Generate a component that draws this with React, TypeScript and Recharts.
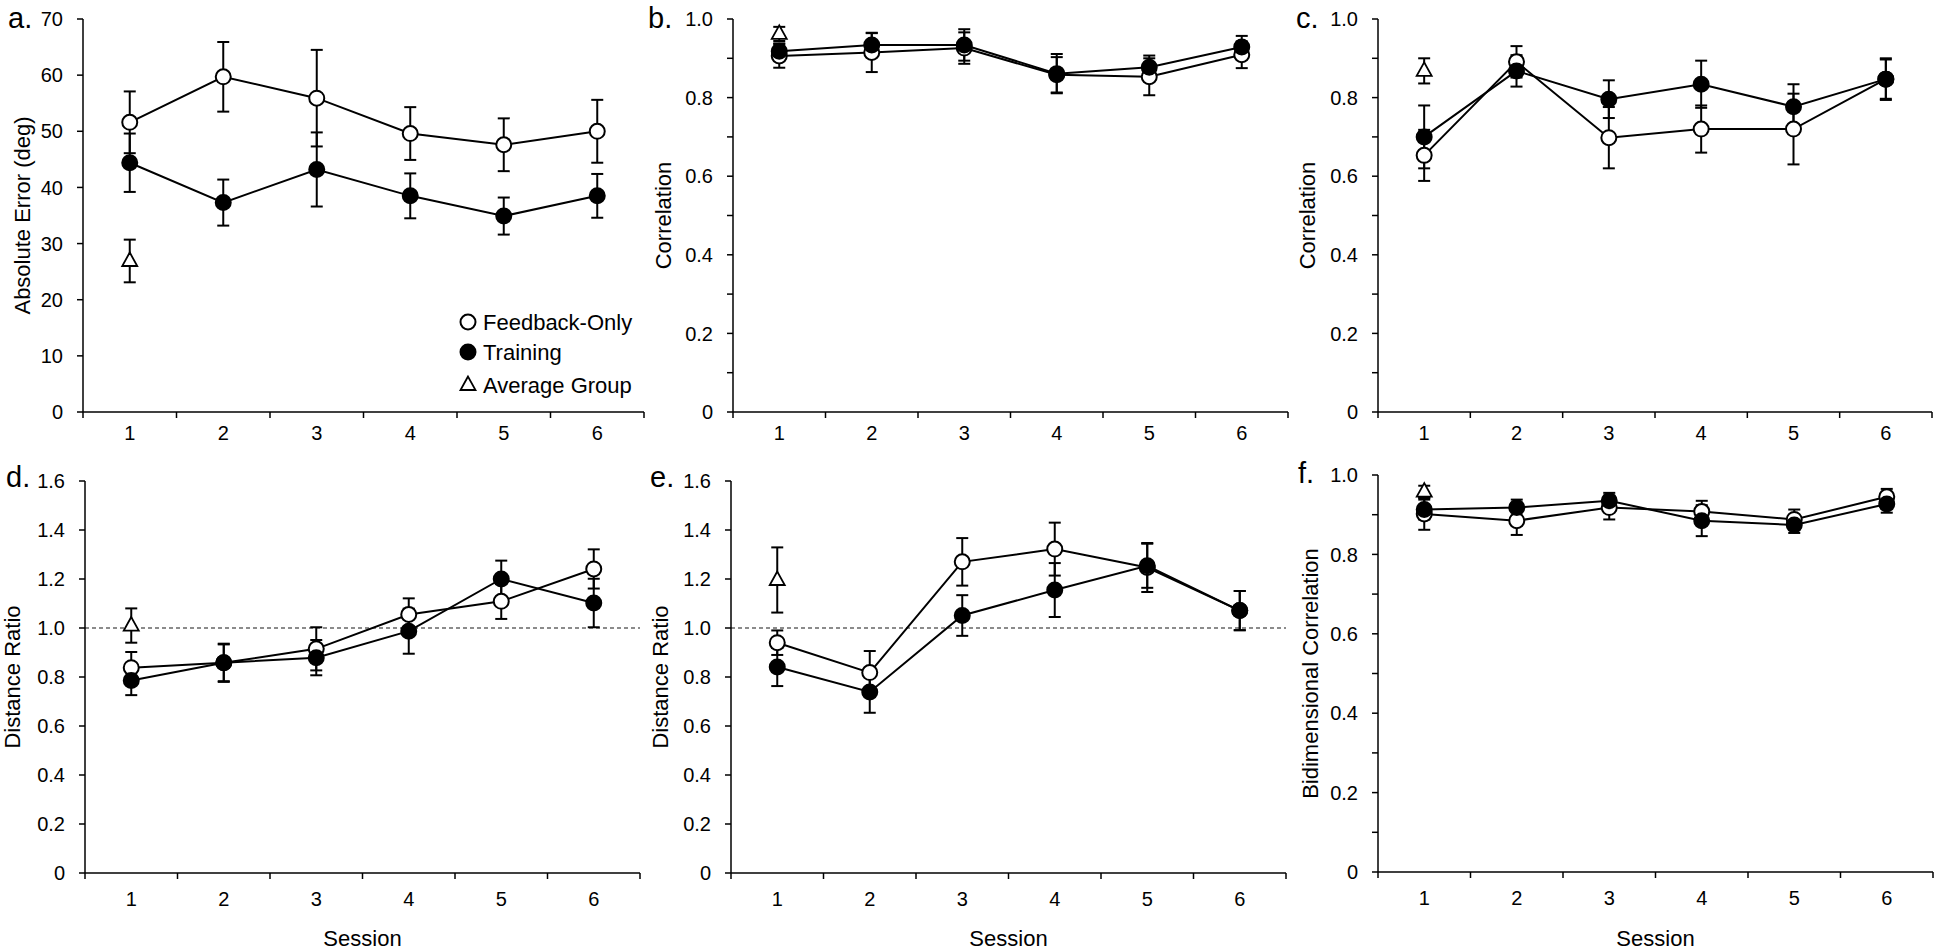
import {
  ComposedChart,
  Line,
  Scatter,
  XAxis,
  YAxis,
  ErrorBar,
  ReferenceLine,
} from "recharts";

const FONT = "'Liberation Sans', Arial, sans-serif";

const sessions = [1, 2, 3, 4, 5, 6];

// a. absolute error (deg)
const errFeedback = [51.6, 59.7, 55.9, 49.6, 47.6, 50.0];
const errFeedbackSe = [5.5, 6.2, 8.6, 4.7, 4.7, 5.6];
const errTraining = [44.4, 37.3, 43.2, 38.5, 34.9, 38.5];
const errTrainingSe = [5.2, 4.1, 6.6, 4.0, 3.3, 3.9];
const errAverage = [26.9];
const errAverageSe = [3.8];

// b. correlation
const corrBFeedback = [0.906, 0.915, 0.926, 0.858, 0.853, 0.909];
const corrBFeedbackSe = [0.03, 0.05, 0.04, 0.045, 0.047, 0.034];
const corrBTraining = [0.918, 0.934, 0.934, 0.861, 0.877, 0.929];
const corrBTrainingSe = [0.02, 0.03, 0.04, 0.05, 0.03, 0.028];
const corrBAverage = [0.962];
const corrBAverageSe = [0.018];

// c. correlation
const corrCFeedback = [0.653, 0.891, 0.698, 0.72, 0.72, 0.847];
const corrCFeedbackSe = [0.065, 0.04, 0.078, 0.06, 0.09, 0.05];
const corrCTraining = [0.7, 0.868, 0.796, 0.834, 0.777, 0.847];
const corrCTrainingSe = [0.08, 0.04, 0.048, 0.06, 0.057, 0.053];
const corrCAverage = [0.868];
const corrCAverageSe = [0.032];

// d. distance ratio
const distDFeedback = [0.838, 0.858, 0.915, 1.055, 1.109, 1.241];
const distDFeedbackSe = [0.064, 0.075, 0.088, 0.066, 0.072, 0.08];
const distDTraining = [0.786, 0.858, 0.879, 0.987, 1.2, 1.102];
const distDTrainingSe = [0.06, 0.078, 0.072, 0.092, 0.075, 0.099];
const distDAverage = [1.01];
const distDAverageSe = [0.07];

// e. distance ratio
const distEFeedback = [0.94, 0.818, 1.27, 1.322, 1.247, 1.071];
const distEFeedbackSe = [0.05, 0.088, 0.097, 0.108, 0.1, 0.08];
const distETraining = [0.841, 0.739, 1.051, 1.155, 1.254, 1.071];
const distETrainingSe = [0.078, 0.085, 0.083, 0.11, 0.09, 0.08];
const distEAverage = [1.196];
const distEAverageSe = [0.133];

// f. bidimensional correlation
const bidimFeedback = [0.902, 0.885, 0.918, 0.908, 0.888, 0.945];
const bidimFeedbackSe = [0.04, 0.036, 0.03, 0.027, 0.025, 0.02];
const bidimTraining = [0.913, 0.918, 0.935, 0.885, 0.874, 0.927];
const bidimTrainingSe = [0.025, 0.02, 0.02, 0.039, 0.02, 0.022];
const bidimAverage = [0.958];
const bidimAverageSe = [0.015];

// y tick values
const ticksError = [0, 10, 20, 30, 40, 50, 60, 70];
const ticksCorr = [0, 0.1, 0.2, 0.3, 0.4, 0.5, 0.6, 0.7, 0.8, 0.9, 1.0];
const ticksRatio = [0, 0.2, 0.4, 0.6, 0.8, 1.0, 1.2, 1.4, 1.6];

const rows = (fb: number[], fbSe: number[], tr: number[], trSe: number[]) =>
  sessions.map((s, i) => ({ session: s, fb: fb[i], fbSe: fbSe[i], tr: tr[i], trSe: trSe[i] }));

const avgRows = (v: number[], se: number[]) => [{ session: 1, avg: v[0], avgSe: se[0] }];

const fmtInt = (v: number) => String(v);
const fmtEven = (v: number) => {
  const k = Math.round(v * 10);
  if (k % 2 !== 0) return "";
  return k === 0 ? "0" : v.toFixed(1);
};
const fmtRatio = (v: number) => (v === 0 ? "0" : v.toFixed(1));

const Y_W = 75;

const panels = [
  {
    letter: "a.", title: "Absolute Error (deg)", left: 0, top: 0, axisX: 83, plotRight: 644,
    plotTop: 19, plotBottom: 412, xH: 40, labelDy: 21, domain: [0, 70], ticks: ticksError, fmt: fmtInt,
    data: rows(errFeedback, errFeedbackSe, errTraining, errTrainingSe), avg: avgRows(errAverage, errAverageSe),
    refOne: false, titleX: 22, letterX: 8, letterY: 28, session: false,
  },
  {
    letter: "b.", title: "Correlation", left: 655, top: 0, axisX: 733, plotRight: 1288,
    plotTop: 19, plotBottom: 412, xH: 40, labelDy: 21, domain: [0, 1], ticks: ticksCorr, fmt: fmtEven,
    data: rows(corrBFeedback, corrBFeedbackSe, corrBTraining, corrBTrainingSe), avg: avgRows(corrBAverage, corrBAverageSe),
    refOne: false, titleX: 663, letterX: 648, letterY: 28, session: false,
  },
  {
    letter: "c.", title: "Correlation", left: 1300, top: 0, axisX: 1378, plotRight: 1932,
    plotTop: 19, plotBottom: 412, xH: 40, labelDy: 21, domain: [0, 1], ticks: ticksCorr, fmt: fmtEven,
    data: rows(corrCFeedback, corrCFeedbackSe, corrCTraining, corrCTrainingSe), avg: avgRows(corrCAverage, corrCAverageSe),
    refOne: false, titleX: 1307, letterX: 1296, letterY: 28, session: false,
  },
  {
    letter: "d.", title: "Distance Ratio", left: 0, top: 452, axisX: 85, plotRight: 640,
    plotTop: 481, plotBottom: 873, xH: 75, labelDy: 26, domain: [0, 1.6], ticks: ticksRatio, fmt: fmtRatio,
    data: rows(distDFeedback, distDFeedbackSe, distDTraining, distDTrainingSe), avg: avgRows(distDAverage, distDAverageSe),
    refOne: true, titleX: 12, letterX: 6, letterY: 487, session: true,
  },
  {
    letter: "e.", title: "Distance Ratio", left: 655, top: 452, axisX: 731, plotRight: 1286,
    plotTop: 481, plotBottom: 873, xH: 75, labelDy: 26, domain: [0, 1.6], ticks: ticksRatio, fmt: fmtRatio,
    data: rows(distEFeedback, distEFeedbackSe, distETraining, distETrainingSe), avg: avgRows(distEAverage, distEAverageSe),
    refOne: true, titleX: 660, letterX: 650, letterY: 487, session: true,
  },
  {
    letter: "f.", title: "Bidimensional Correlation", left: 1300, top: 452, axisX: 1378, plotRight: 1933,
    plotTop: 475, plotBottom: 872, xH: 76, labelDy: 26, domain: [0, 1], ticks: ticksCorr, fmt: fmtEven,
    data: rows(bidimFeedback, bidimFeedbackSe, bidimTraining, bidimTrainingSe), avg: avgRows(bidimAverage, bidimAverageSe),
    refOne: false, titleX: 1310, letterX: 1298, letterY: 483, session: true,
  },
];

const Triangle = (p: any) => {
  const { cx, cy } = p;
  if (cx == null || cy == null) return <g />;
  return (
    <polygon
      points={`${cx},${cy - 8.5} ${cx - 7.5},${cy + 5} ${cx + 7.5},${cy + 5}`}
      fill="#fff"
      stroke="#000"
      strokeWidth={1.8}
    />
  );
};

const SessionTick = (p: any) => {
  const { x, y, payload, band, dy } = p;
  return (
    <g>
      <line x1={x - band / 2} y1={y} x2={x - band / 2} y2={y + 6} stroke="#000" strokeWidth={1.5} />
      {payload.value === 6 && (
        <line x1={x + band / 2} y1={y} x2={x + band / 2} y2={y + 6} stroke="#000" strokeWidth={1.5} />
      )}
      <text x={x} y={y + dy} textAnchor="middle" dominantBaseline="central" fontSize={20} fill="#000" fontFamily={FONT}>
        {payload.value}
      </text>
    </g>
  );
};

function Panel({ cfg }: any) {
  const marginRight = 6;
  const width = cfg.plotRight - cfg.left + marginRight;
  const height = cfg.plotBottom - cfg.top + cfg.xH;
  const band = (cfg.plotRight - cfg.axisX) / 6;
  return (
    <div style={{ position: "absolute", left: cfg.left, top: cfg.top }}>
      <ComposedChart
        width={width}
        height={height}
        data={cfg.data}
        margin={{ top: cfg.plotTop - cfg.top, right: marginRight, bottom: 0, left: cfg.axisX - cfg.left - Y_W }}
        style={{ fontFamily: FONT }}
      >
        <XAxis
          dataKey="session"
          type="number"
          domain={[0.5, 6.5]}
          ticks={sessions}
          interval={0}
          height={cfg.xH}
          tickSize={0}
          tickMargin={0}
          tickLine={false}
          axisLine={{ stroke: "#000", strokeWidth: 1.5 }}
          tick={(p: any) => <SessionTick {...p} band={band} dy={cfg.labelDy} />}
        />
        <YAxis
          type="number"
          domain={cfg.domain}
          ticks={cfg.ticks}
          interval={0}
          width={Y_W}
          tickSize={6}
          tickMargin={14}
          tickFormatter={cfg.fmt}
          axisLine={{ stroke: "#000", strokeWidth: 1.5 }}
          tickLine={{ stroke: "#000", strokeWidth: 1.5 }}
          tick={{ fill: "#000", fontSize: 20, fontFamily: FONT }}
        />
        {cfg.refOne && (
          <ReferenceLine y={1} stroke="#666" strokeWidth={1.5} strokeDasharray="4 3" />
        )}
        <Line
          type="linear"
          dataKey="fb"
          stroke="#000"
          strokeWidth={2}
          dot={{ r: 7.5, fill: "#fff", stroke: "#000", strokeWidth: 2 }}
          activeDot={false}
          isAnimationActive={false}
        >
          <ErrorBar dataKey="fbSe" direction="y" width={6} stroke="#000" strokeWidth={2} />
        </Line>
        <Line
          type="linear"
          dataKey="tr"
          stroke="#000"
          strokeWidth={2}
          dot={{ r: 7.5, fill: "#000", stroke: "#000", strokeWidth: 2 }}
          activeDot={false}
          isAnimationActive={false}
        >
          <ErrorBar dataKey="trSe" direction="y" width={6} stroke="#000" strokeWidth={2} />
        </Line>
        <Scatter data={cfg.avg} dataKey="avg" shape={Triangle} isAnimationActive={false}>
          <ErrorBar dataKey="avgSe" direction="y" width={6} stroke="#000" strokeWidth={2} />
        </Scatter>
      </ComposedChart>
    </div>
  );
}

export default function App() {
  return (
    <div
      style={{
        position: "absolute",
        left: 0,
        top: 0,
        width: 1946,
        height: 949,
        background: "#fff",
        fontFamily: FONT,
      }}
    >
      {panels.map((cfg) => (
        <Panel key={cfg.letter} cfg={cfg} />
      ))}
      <svg
        width={1946}
        height={949}
        style={{ position: "absolute", left: 0, top: 0, pointerEvents: "none" }}
        fontFamily={FONT}
      >
        {panels.map((cfg) => {
          const midY = (cfg.plotTop + cfg.plotBottom) / 2;
          return (
            <g key={cfg.letter}>
              <text x={cfg.letterX} y={cfg.letterY} fontSize={29} fill="#000">
                {cfg.letter}
              </text>
              <text
                x={cfg.titleX}
                y={midY}
                fontSize={22}
                fill="#000"
                textAnchor="middle"
                dominantBaseline="central"
                transform={`rotate(-90 ${cfg.titleX} ${midY})`}
              >
                {cfg.title}
              </text>
              {cfg.session && (
                <text
                  x={(cfg.axisX + cfg.plotRight) / 2}
                  y={938}
                  fontSize={22}
                  fill="#000"
                  textAnchor="middle"
                  dominantBaseline="central"
                >
                  Session
                </text>
              )}
            </g>
          );
        })}
        {/* legend of panel a */}
        <g>
          <circle cx={468} cy={322} r={7.5} fill="#fff" stroke="#000" strokeWidth={2} />
          <text x={483} y={322} fontSize={22} dominantBaseline="central">Feedback-Only</text>
          <circle cx={468} cy={352} r={7.5} fill="#000" stroke="#000" strokeWidth={2} />
          <text x={483} y={352} fontSize={22} dominantBaseline="central">Training</text>
          <polygon points="468,376.5 460.5,390 475.5,390" fill="#fff" stroke="#000" strokeWidth={1.8} />
          <text x={483} y={385} fontSize={22} dominantBaseline="central">Average Group</text>
        </g>
      </svg>
    </div>
  );
}
